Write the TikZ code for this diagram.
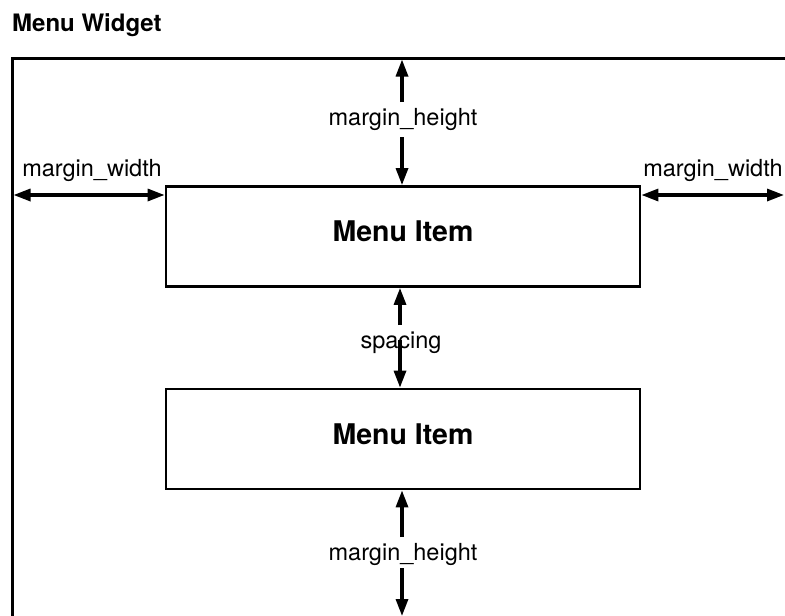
\documentclass[tikz,border=0pt]{standalone}
\usepackage{fontspec}
\setmainfont{TeX Gyre Heros}
\usetikzlibrary{arrows.meta,calc}
\begin{document}
\begin{tikzpicture}[x=1pt,y=-1pt,
  frameline/.style={line width=3pt},
  itembox/.style={draw,line width=2.8pt,minimum width=474pt,minimum height=100pt,
    inner sep=0pt,text depth=10pt,font=\fontsize{28.5}{32}\selectfont\bfseries},
  dimtip/.style={-{Triangle[length=17pt,width=12pt]}},
  dim/.style={line width=3.2pt,dimtip},
  dimboth/.style={line width=3.2pt,{Triangle[length=17pt,width=12pt]}-{Triangle[length=17pt,width=12pt]}},
  lbl/.style={font=\fontsize{23.5}{26}\selectfont,inner sep=0pt,anchor=base},
  title/.style={font=\fontsize{24}{28}\selectfont\bfseries,inner sep=0pt,anchor=base west}]
\useasboundingbox (0,0) rectangle (785,616);
\begin{scope}
\clip (0,0) rectangle (785,616);

% title
\node[title] (title) at (12,31) {Menu Widget};

% widget frame (continues past the lower and right edges)
\draw[frameline] (12,640) -- (12,58) -- (800,58);
\coordinate (ftop) at (402,59.5);
\coordinate (fleft) at (13.5,195);
\coordinate (fright) at (784,195);
\coordinate (fbottom) at (402,616);

% menu items
\node[itembox] (item1) at (403,236.5) {Menu Item};
\node[itembox] (item2) at (403,439) {Menu Item};

% margin_height above the first item
\node[lbl] (mhtop) at (403,125) {margin\_height};
\coordinate (mhtopa) at (402,102);
\coordinate (mhtopb) at (402,137);
\draw[dim] (mhtopa) -- (ftop);
\draw[dim] (mhtopb) -- (item1.north -| mhtopb);

% margin_width on the left
\node[lbl] (mwleft) at (92,176) {margin\_width};
\draw[dimboth] (fleft) -- (fleft -| item1.west);

% margin_width on the right
\node[lbl] (mwright) at (713,176) {margin\_width};
\draw[dimboth] (fright -| item1.east) -- (fright);

% spacing between the items
\node[lbl] (sp) at (401,348) {spacing};
\coordinate (spa) at (400,325);
\coordinate (spb) at (400,340);
\draw[dim] (spa) -- (item1.south -| spa);
\draw[dim] (spb) -- (item2.north -| spb);

% margin_height below the last item
\node[lbl] (mhbot) at (403,560) {margin\_height};
\coordinate (mhbota) at (402,537);
\coordinate (mhbotb) at (402,568);
\draw[dim] (mhbota) -- (item2.south -| mhbota);
\draw[dim] (mhbotb) -- (fbottom);
\end{scope}
\end{tikzpicture}
\end{document}
